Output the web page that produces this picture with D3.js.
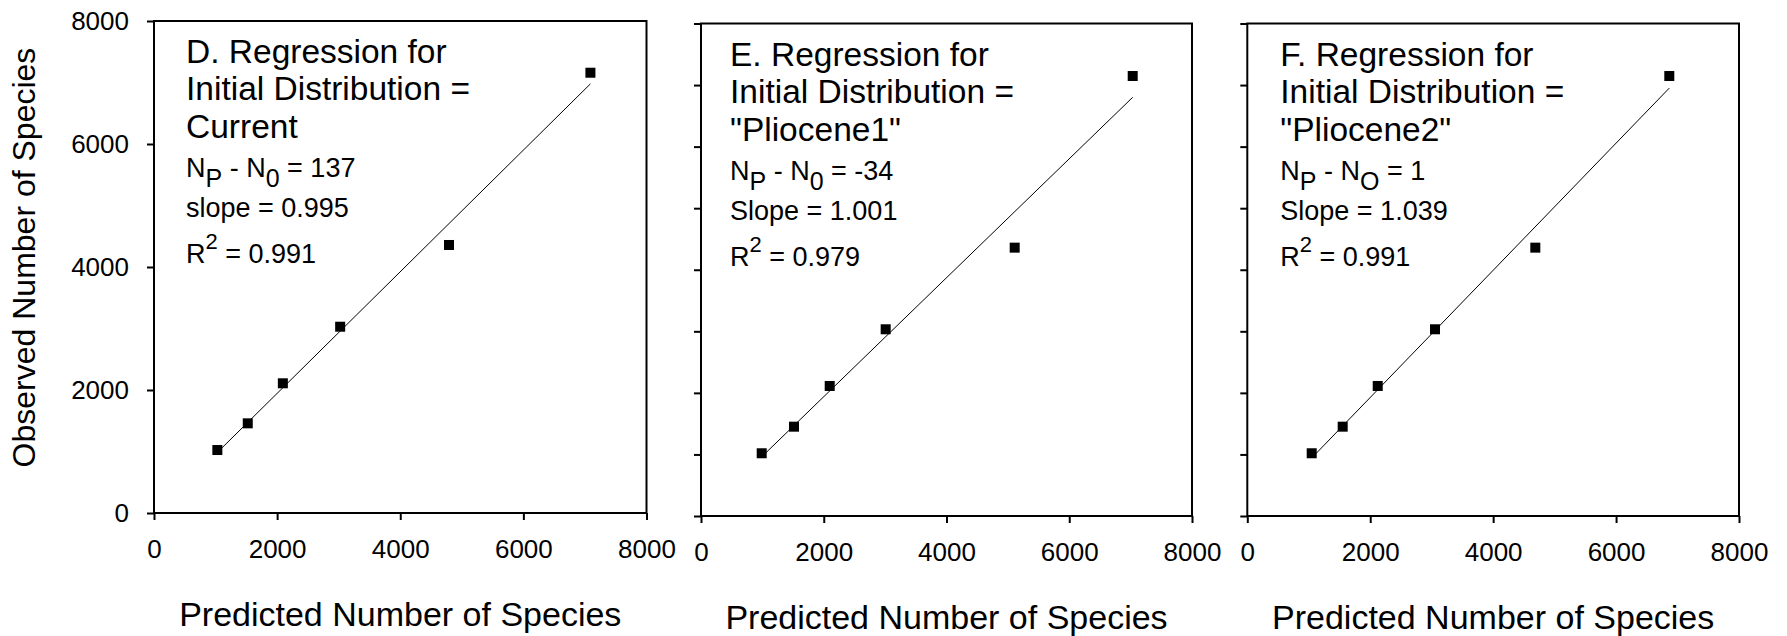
<!DOCTYPE html>
<html>
<head>
<meta charset="utf-8">
<script src="https://cdn.jsdelivr.net/npm/d3@7"></script>
<style>
  body { margin: 0; background: #fff; }
  svg { display: block; font-family: "Liberation Sans", Arial, Helvetica, sans-serif; }
  text { white-space: pre; fill: #000; }
</style>
</head>
<body>
<div id="chart"></div>
<script>
// Data (D, E, F)
const titleLines = [
  ["D. Regression for", "Initial Distribution =", "Current"],
  ["E. Regression for", "Initial Distribution =", "\"Pliocene1\""],
  ["F. Regression for", "Initial Distribution =", "\"Pliocene2\""]
];
const subLetters = [["P", "0"], ["P", "0"], ["P", "O"]];
const diffText = ["137", "-34", "1"];
const slopeText = ["slope = 0.995", "Slope = 1.001", "Slope = 1.039"];
const r2Text = ["0.991", "0.979", "0.991"];

const predictedD = [1029, 1523, 2093, 3024, 4792, 7089];
const observedD  = [1024, 1458, 2109, 3029, 4358, 7159];
const predictedE = [989, 1515, 2097, 3009, 5111, 7034];
const observedE  = [1019, 1451, 2112, 3033, 4359, 7147];
const predictedF = [1048, 1552, 2122, 3054, 4686, 6866];
const observedF  = [1019, 1451, 2112, 3033, 4359, 7147];

const xTicks = [0, 2000, 4000, 6000, 8000];
const yMajorTicks = [0, 2000, 4000, 6000, 8000];
const yMinorTicks = [0, 1000, 2000, 3000, 4000, 5000, 6000, 7000, 8000];

const xTitle = "Predicted Number of Species";
const yTitle = "Observed Number of Species";

// layout of the three plot boxes
const svgWidth = 1787;
const svgHeight = 636;
const panels = [
  { left: 154, right: 646.5, top: 21, bottom: 513, textDx: 32 },
  { left: 701, right: 1192, top: 23.5, bottom: 516, textDx: 29 },
  { left: 1247.3, right: 1739, top: 23.5, bottom: 516, textDx: 33 }
];
const series = [
  [predictedD, observedD],
  [predictedE, observedE],
  [predictedF, observedF]
];

const plain = d3.format("d");

const svg = d3.select("#chart").append("svg")
  .attr("width", svgWidth)
  .attr("height", svgHeight);

panels.forEach(function(p, i) {
  const g = svg.append("g");

  const x = d3.scaleLinear().domain([0, 8000]).range([p.left, p.right]);
  const y = d3.scaleLinear().domain([0, 8000]).range([p.bottom, p.top]);

  const pts = series[i][0].map((v, k) => ({ px: v, ob: series[i][1][k] }));

  // x axis ticks + labels
  const xAxis = g.append("g")
    .attr("transform", `translate(0,${p.bottom})`)
    .call(d3.axisBottom(x).tickValues(xTicks).tickFormat(plain)
      .tickSize(7).tickSizeOuter(0).tickPadding(20));
  xAxis.select(".domain").remove();
  xAxis.selectAll("line").attr("stroke", "#000").attr("stroke-width", 2);
  xAxis.selectAll("text").attr("font-size", 26).attr("font-family", null).attr("fill", "#000");

  // y axis: labelled on the first panel, minor ticks only on the others
  const yAxisGen = i === 0
    ? d3.axisLeft(y).tickValues(yMajorTicks).tickFormat(plain).tickSize(7).tickPadding(18)
    : d3.axisLeft(y).tickValues(yMinorTicks).tickSize(7).tickFormat("");
  const yAxis = g.append("g")
    .attr("transform", `translate(${p.left},0)`)
    .call(yAxisGen.tickSizeOuter(0));
  yAxis.select(".domain").remove();
  yAxis.selectAll("line").attr("stroke", "#000").attr("stroke-width", 2);
  yAxis.selectAll("text").attr("font-size", 26).attr("font-family", null).attr("fill", "#000");

  // frame around the plot
  g.append("rect")
    .attr("x", p.left)
    .attr("y", p.top)
    .attr("width", p.right - p.left)
    .attr("height", p.bottom - p.top)
    .attr("fill", "none")
    .attr("stroke", "#000")
    .attr("stroke-width", 2);

  // least squares fit through the points
  const mx = d3.mean(pts, d => d.px);
  const my = d3.mean(pts, d => d.ob);
  const sxy = d3.sum(pts, d => (d.px - mx) * (d.ob - my));
  const sxx = d3.sum(pts, d => (d.px - mx) * (d.px - mx));
  const b = sxy / sxx;
  const a = my - b * mx;
  const ends = d3.extent(pts, d => d.px);

  g.append("path")
    .datum(ends)
    .attr("d", d3.line().x(d => x(d)).y(d => y(a + b * d)))
    .attr("fill", "none")
    .attr("stroke", "#000")
    .attr("stroke-width", 1);

  // square markers
  const size = 10;
  g.selectAll("rect.pt")
    .data(pts)
    .join("rect")
    .attr("class", "pt")
    .attr("x", d => x(d.px) - size / 2)
    .attr("y", d => y(d.ob) - size / 2)
    .attr("width", size)
    .attr("height", size)
    .attr("fill", "#000");

  // panel annotation
  const tx = p.left + p.textDx;
  const lineY = [42, 79, 117];
  titleLines[i].forEach(function(s, k) {
    g.append("text")
      .attr("x", tx)
      .attr("y", p.top + lineY[k])
      .attr("font-size", 33.5)
      .text(s);
  });

  const n = g.append("text")
    .attr("x", tx)
    .attr("y", p.top + 156)
    .attr("font-size", 27);
  n.append("tspan").text("N");
  n.append("tspan").attr("font-size", 25).attr("dy", 10).text(subLetters[i][0]);
  n.append("tspan").attr("dy", -10).text(" - N");
  n.append("tspan").attr("font-size", 25).attr("dy", 10).text(subLetters[i][1]);
  n.append("tspan").attr("dy", -10).text(" = " + diffText[i]);

  g.append("text")
    .attr("x", tx)
    .attr("y", p.top + 196)
    .attr("font-size", 27)
    .text(slopeText[i]);

  const r = g.append("text")
    .attr("x", tx)
    .attr("y", p.top + 242)
    .attr("font-size", 27);
  r.append("tspan").text("R");
  r.append("tspan").attr("font-size", 22).attr("dy", -14).text("2");
  r.append("tspan").attr("dy", 14).text(" = " + r2Text[i]);

  // x axis title under each panel
  g.append("text")
    .attr("x", (p.left + p.right) / 2)
    .attr("y", p.bottom + 113)
    .attr("text-anchor", "middle")
    .attr("font-size", 34)
    .text(xTitle);
});

// shared y axis title
svg.append("text")
  .attr("transform", "translate(35,257.5) rotate(-90)")
  .attr("text-anchor", "middle")
  .attr("font-size", 32)
  .text(yTitle);
</script>
</body>
</html>
